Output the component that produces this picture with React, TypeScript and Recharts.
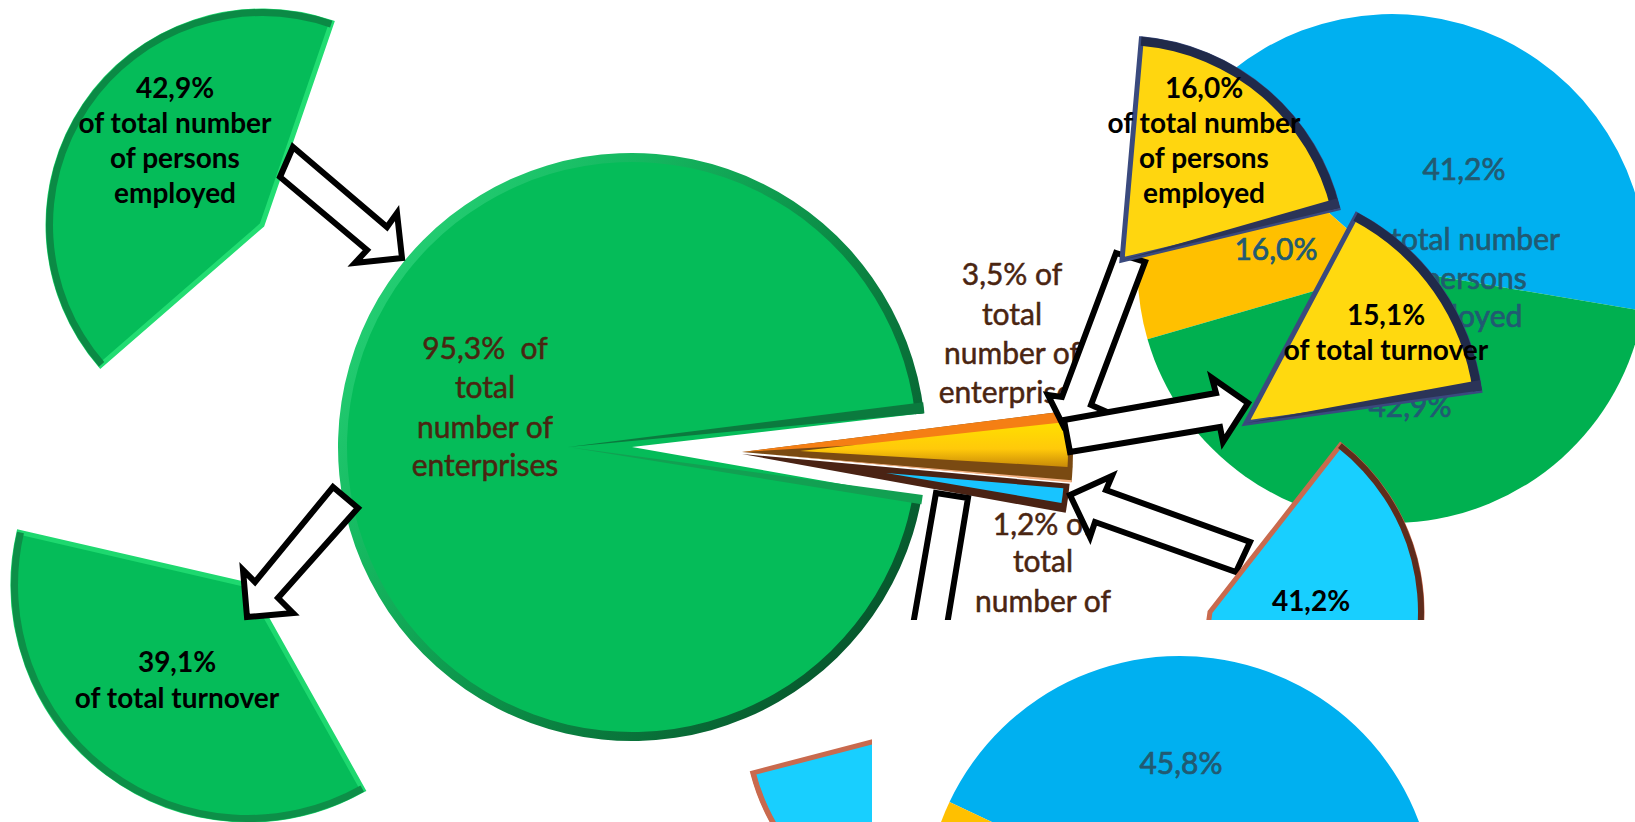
import type { ReactNode } from "react";
import { PieChart, Pie, Cell } from "recharts";

const enterpriseShares = [95.3, 3.5, 1.2];
const personsShares = [41.2, 16.0, 42.9];
const turnoverShares = [45.8, 15.1, 39.1];
const SHARE_COLORS = ["#00B0F0", "#FFC000", "#00B050"];

const mainLabel = ["95,3%\u00A0\u00A0of", "total", "number of", "enterprises"];
const goldLabel = ["3,5% of", "total", "number of", "enterprises"];
const blueLabel = ["1,2% of", "total", "number of"];
const personsLabel = ["of total number", "of persons", "employed"];
const FONT = "Lato, 'Open Sans', sans-serif";
const BROWN = "#4A2511";
const TEAL = "#215A72";
const W = 1635;
const H = 822;

const arrows = [
  "293,147 387,227 397,213 402,258 355,263 367,250 280,177",
  "333,487 358,508 278,598 293,613 247,617 243,570 255,582",
  "1116,253 1145,262 1091,405 1107,412 1064,427 1048,395 1062,397",
  "1064,420 1216,393 1212,378 1248,403 1223,442 1220,427 1070,452",
  "1070,495 1112,476 1106,490 1250,542 1236,572 1095,522 1090,537",
  "936,493 968,498 947,625 913,625",
];

type SliceProps = {
  id: string;
  value: number;
  cx: number;
  cy: number;
  r: number;
  inner?: number;
  start: number;
  end: number;
  fill: string;
  stroke?: string;
  strokeWidth?: number;
};

// one exploded piece, drawn as its own single-slice Pie
function slice({ id, value, cx, cy, r, inner = 0, start, end, fill, stroke = "none", strokeWidth = 0 }: SliceProps) {
  return (
    <Pie
      key={id}
      data={[{ name: id, value }]}
      dataKey="value"
      cx={cx}
      cy={cy}
      innerRadius={inner}
      outerRadius={r}
      startAngle={start}
      endAngle={end}
      labelLine={false}
      isAnimationActive={false}
    >
      <Cell fill={fill} stroke={stroke} strokeWidth={strokeWidth} />
    </Pie>
  );
}

// flat face with lit cut edges, plus a rim along the arc
function bevelled(id: string, value: number, cx: number, cy: number, r: number, start: number, end: number, face: string, cut: string, rim: string, rimWidth = 7) {
  return [
    slice({ id: id + "-face", value, cx, cy, r, start, end, fill: face, stroke: cut, strokeWidth: 5 }),
    slice({ id: id + "-rim", value, cx, cy, r: r + 2, inner: r + 2 - rimWidth, start, end, fill: rim }),
  ];
}

function lines(text: string[], x: number, ys: number[], size: number, color: string, weight = 400, thicken = 0) {
  return text.map((t, i) => (
    <text
      key={`${t}-${x}-${ys[i]}`}
      x={x}
      y={ys[i] + 2.5}
      textAnchor="middle"
      dominantBaseline="middle"
      fontFamily={FONT}
      fontSize={size}
      fontWeight={weight}
      fill={color}
      stroke={thicken ? color : "none"}
      strokeWidth={thicken}
    >
      {t}
    </text>
  ));
}

function fullPie(id: string, values: number[], cx: number, cy: number, r: number, start: number) {
  return (
    <Pie
      key={id}
      data={values.map((value, i) => ({ name: `${id}-${i}`, value }))}
      dataKey="value"
      cx={cx}
      cy={cy}
      outerRadius={r}
      startAngle={start}
      endAngle={start + 360}
      labelLine={false}
      isAnimationActive={false}
    >
      {values.map((_, i) => (
        <Cell key={i} fill={SHARE_COLORS[i]} stroke="none" />
      ))}
    </Pie>
  );
}

// Pies always paint above loose svg children, so the picture is a stack of sheets
function ChartSheet({ children }: { children: ReactNode }) {
  return (
    <div style={{ position: "absolute", left: 0, top: 0 }}>
      <PieChart width={W} height={H} margin={{ top: 0, right: 0, bottom: 0, left: 0 }}>
        {children}
      </PieChart>
    </div>
  );
}

function DrawSheet({ children }: { children: ReactNode }) {
  return (
    <svg width={W} height={H} style={{ position: "absolute", left: 0, top: 0 }}>
      {children}
    </svg>
  );
}

export default function App() {
  const [mainShare, goldShare, blueShare] = enterpriseShares;
  const [bluePersons, goldPersons, greenPersons] = personsShares;
  const [blueTurnover, goldTurnover, greenTurnover] = turnoverShares;

  return (
    <div style={{ position: "absolute", left: 0, top: 0, width: W, height: H, overflow: "hidden", background: "#fff" }}>
      <ChartSheet>
        <defs>
          <linearGradient id="mainRim" x1="0" y1="0.1" x2="1" y2="0.8">
            <stop offset="0" stopColor="#2BD97C" />
            <stop offset="0.3" stopColor="#15B860" />
            <stop offset="0.6" stopColor="#0B8A45" />
            <stop offset="1" stopColor="#064F29" />
          </linearGradient>
          <linearGradient id="goldFace" x1="0" y1="0" x2="0" y2="1">
            <stop offset="0" stopColor="#FFE000" />
            <stop offset="0.6" stopColor="#FFC90A" />
            <stop offset="1" stopColor="#C98A08" />
          </linearGradient>
        </defs>

        {/* main pie with the two thin bevel bands along the cut */}
        {slice({ id: "main-face", value: mainShare, cx: 632, cy: 447, r: 293, start: 6.6, end: 350, fill: "#05BC59" })}
        {slice({ id: "main-rim", value: mainShare, cx: 632, cy: 447, r: 294, inner: 285, start: 6.6, end: 350, fill: "url(#mainRim)" })}
        {slice({ id: "main-cut-top", value: mainShare, cx: 568, cy: 447, r: 358, start: 5.4, end: 7.2, fill: "#0B7A3E" })}
        {slice({ id: "main-cut-bottom", value: mainShare, cx: 568, cy: 447, r: 358, start: -9.2, end: -7.7, fill: "#12A052" })}

        {bevelled("persons-green", greenPersons, 262, 225, 214, 71, 221, "#05BC59", "#22DD72", "#0B8A45")}
        {bevelled("turnover-green", greenTurnover, 248, 585, 235, 167, 299.3, "#05BC59", "#1ED86F", "#0D8F48")}
        {bevelled("turnover-blue", blueTurnover, 956, 720, 210, 194.6, 359.6, "#18CFFF", "#C96A4E", "#C96A4E", 5)}

        {/* narrow slices for the two smaller size classes */}
        {slice({ id: "gold-base", value: goldShare, cx: 742, cy: 452, r: 331, start: -5.2, end: 7.2, fill: "#7A4A12" })}
        {slice({ id: "gold-top", value: goldShare, cx: 742, cy: 452, r: 324, start: 3.4, end: 7.2, fill: "#F57F14" })}
        {slice({ id: "gold-face", value: goldShare, cx: 800, cy: 451, r: 268, start: -3.4, end: 6.2, fill: "url(#goldFace)" })}
        {slice({ id: "blue-base", value: blueShare, cx: 742, cy: 454, r: 329, start: -10.3, end: -5.2, fill: "#4A2314" })}
        {slice({ id: "blue-face", value: blueShare, cx: 886, cy: 473, r: 178, start: -9.7, end: -4.9, fill: "#18C4FF" })}
        {slice({ id: "gold-line", value: goldShare, cx: 742, cy: 452, r: 331, start: -5.3, end: -4.9, fill: "#F4B183" })}

        {fullPie("persons", personsShares, 1392, 268.5, 254.5, -9.6)}
      </ChartSheet>

      <DrawSheet>
        {lines(mainLabel, 485, [349, 388, 428, 466], 30, BROWN, 400, 0.5)}
        {lines(goldLabel, 1012, [275, 315, 354, 393], 30, BROWN, 400, 0.5)}
        {lines(blueLabel, 1043, [525, 562, 602], 30, BROWN, 400, 0.5)}
        {lines(["41,2%"], 1464, [170], 30, TEAL, 400, 0.7)}
        {lines(["16,0%"], 1276, [250], 30, TEAL, 400, 0.7)}
        {lines(personsLabel, 1458, [240, 279, 317], 30, TEAL, 400, 0.7)}
        {lines(["42,9%"], 1410, [407], 30, TEAL, 400, 0.7)}
        {lines(["42,9%", "of total number", "of persons", "employed"], 175, [88, 123, 158, 193], 28, "#000", 700)}
        {lines(["39,1%", "of total turnover"], 177, [662, 698], 28, "#000", 700)}
        {arrows.map((points) => (
          <polygon key={points} points={points} fill="#fff" stroke="#000" strokeWidth={6} strokeLinejoin="miter" />
        ))}
      </DrawSheet>

      <ChartSheet>
        {bevelled("persons-gold", goldPersons, 1122, 260, 222, 13.5, 85, "#FFD60F", "#3A4A7E", "#202A4A", 9)}
        {slice({ id: "persons-gold-cut", value: goldPersons, cx: 1122, cy: 260, r: 224, start: 13.5, end: 16, fill: "#2B3458" })}
        {bevelled("turnover-gold", goldTurnover, 1246, 423, 236, 7.9, 62, "#FFD90F", "#3A4A7E", "#202A4A", 9)}
        {slice({ id: "turnover-gold-cut", value: goldTurnover, cx: 1246, cy: 423, r: 238, start: 7.9, end: 10.4, fill: "#2B3458" })}
        {bevelled("persons-blue", bluePersons, 1210, 612, 212, -98, 52, "#18CFFF", "#C96A4E", "#5E2C1C", 6)}
      </ChartSheet>

      <DrawSheet>
        {lines(["16,0%", "of total number", "of persons", "employed"], 1204, [88, 123, 158, 193], 28, "#000", 700)}
        {lines(["15,1%", "of total turnover"], 1386, [315, 350], 28, "#000", 700)}
        {lines(["41,2%"], 1311, [601], 28, "#000", 700)}
        {/* the lower pie was pasted over the upper picture on a white sheet */}
        <rect x={872} y={620} width={763} height={202} fill="#fff" />
      </DrawSheet>

      <ChartSheet>{fullPie("turnover", turnoverShares, 1180, 911, 255, -10.2)}</ChartSheet>

      <DrawSheet>{lines(["45,8%"], 1181, [764], 30, TEAL, 400, 0.7)}</DrawSheet>
    </div>
  );
}
